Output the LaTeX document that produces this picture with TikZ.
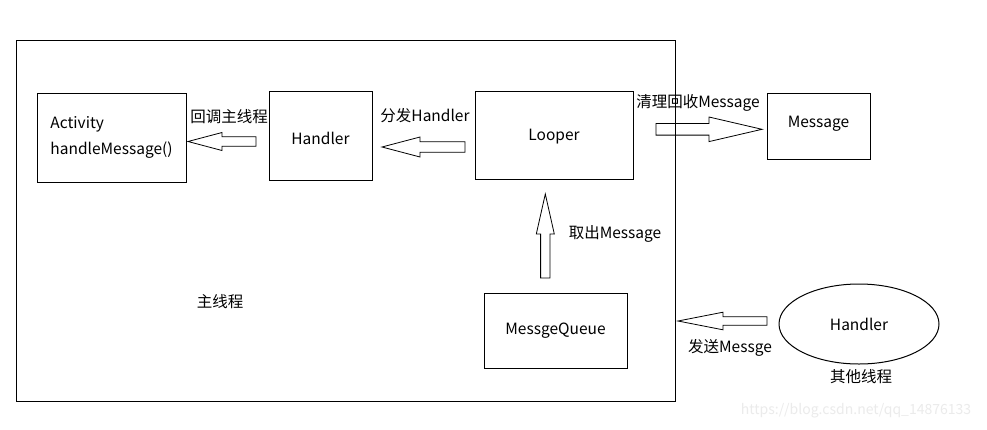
\documentclass[tikz,border=0pt]{standalone}
\usepackage{fontspec}
\setmainfont{Noto Sans CJK SC}
\usetikzlibrary{positioning,calc,shapes.geometric}

\tikzset{
  box/.style={draw, line width=1pt, inner sep=0pt},
  lbl/.style={inner sep=0pt},
}
% hollow block arrow: tail, tip, shaft half width, head half width, head length
\newcommand{\hollowarrow}[5]{%
  \path ($(#2)!#5!(#1)$) coordinate (hb);
  \draw[line width=0.8pt, line join=miter]
    ($(#1)!#3!90:(#2)$) -- ($(hb)!#3!90:(#2)$) -- ($(hb)!#4!90:(#2)$) -- (#2)
    -- ($(hb)!#4!-90:(#2)$) -- ($(hb)!#3!-90:(#2)$) -- ($(#1)!#3!-90:(#2)$) -- cycle;
}
% text with its baseline set below the centre
\newcommand{\low}[2]{\raisebox{-#1}[0pt][0pt]{#2}}

\begin{document}
\begin{tikzpicture}[x=1pt,y=-1pt,font=\fontsize{15.5}{26}\selectfont]
  \useasboundingbox[fill=white] (0,0) rectangle (987,429);

  % main thread frame
  \node[box, minimum width=659, minimum height=361] (mainthread) at (345.5,220.5) {};
  \node[lbl] (mainlbl) at (220,302) {主线程};

  \node[box, minimum width=149, minimum height=89, align=left] (activity) at (111.5,137.5) {Activity\\handleMessage()};
  \node[box, minimum width=103, minimum height=89] (handler) at (320.5,135.5) {\low{9pt}{Handler}};
  \node[box, minimum width=158, minimum height=88] (looper) at (554,135) {\low{5.5pt}{Looper}};
  \node[box, minimum width=143, minimum height=75] (queue) at (555.5,330.5) {MessgeQueue};
  \node[box, minimum width=103, minimum height=66] (message) at (818.5,126) {\low{1.5pt}{Message}};
  \node[box, ellipse, minimum width=160, minimum height=80] (other) at (859,324) {Handler};
  \node[lbl] (otherlbl) at (861,377) {其他线程};

  % labels
  \node[lbl] (callback) at (229,117) {回调主线程};
  \node[lbl] (dispatch) at (425,116) {分发Handler};
  \node[lbl] (recycle) at (698,103) {清理回收Message};
  \node[lbl] (fetch) at (615,234) {取出Message};
  \node[lbl] (send) at (730,348) {发送Messge};

  % arrow ends
  \coordinate (cbT) at (256,141.5);
  \coordinate (cbH) at (188,141.5);
  \coordinate (dsT) at (465,147);
  \coordinate (dsH) at (382,147);
  \coordinate (rcT) at (656,129.3);
  \coordinate (rcH) at (762,129.3);
  \coordinate (ftT) at (545.3,278);
  \coordinate (ftH) at (545.3,194);
  \coordinate (sdT) at (767,321);
  \coordinate (sdH) at (678,321);

  \hollowarrow{cbT}{cbH}{4.7pt}{9pt}{34pt}
  \hollowarrow{dsT}{dsH}{5.2pt}{10pt}{38pt}
  \hollowarrow{rcT}{rcH}{5.8pt}{12.3pt}{53pt}
  \hollowarrow{ftT}{ftH}{4.7pt}{9pt}{40pt}
  \hollowarrow{sdT}{sdH}{4.2pt}{8.8pt}{45pt}

  \node[lbl, text=black!8, font=\fontsize{14}{16}\selectfont] (mark) at (856,411) {https://blog.csdn.net/qq\_14876133};
\end{tikzpicture}
\end{document}
